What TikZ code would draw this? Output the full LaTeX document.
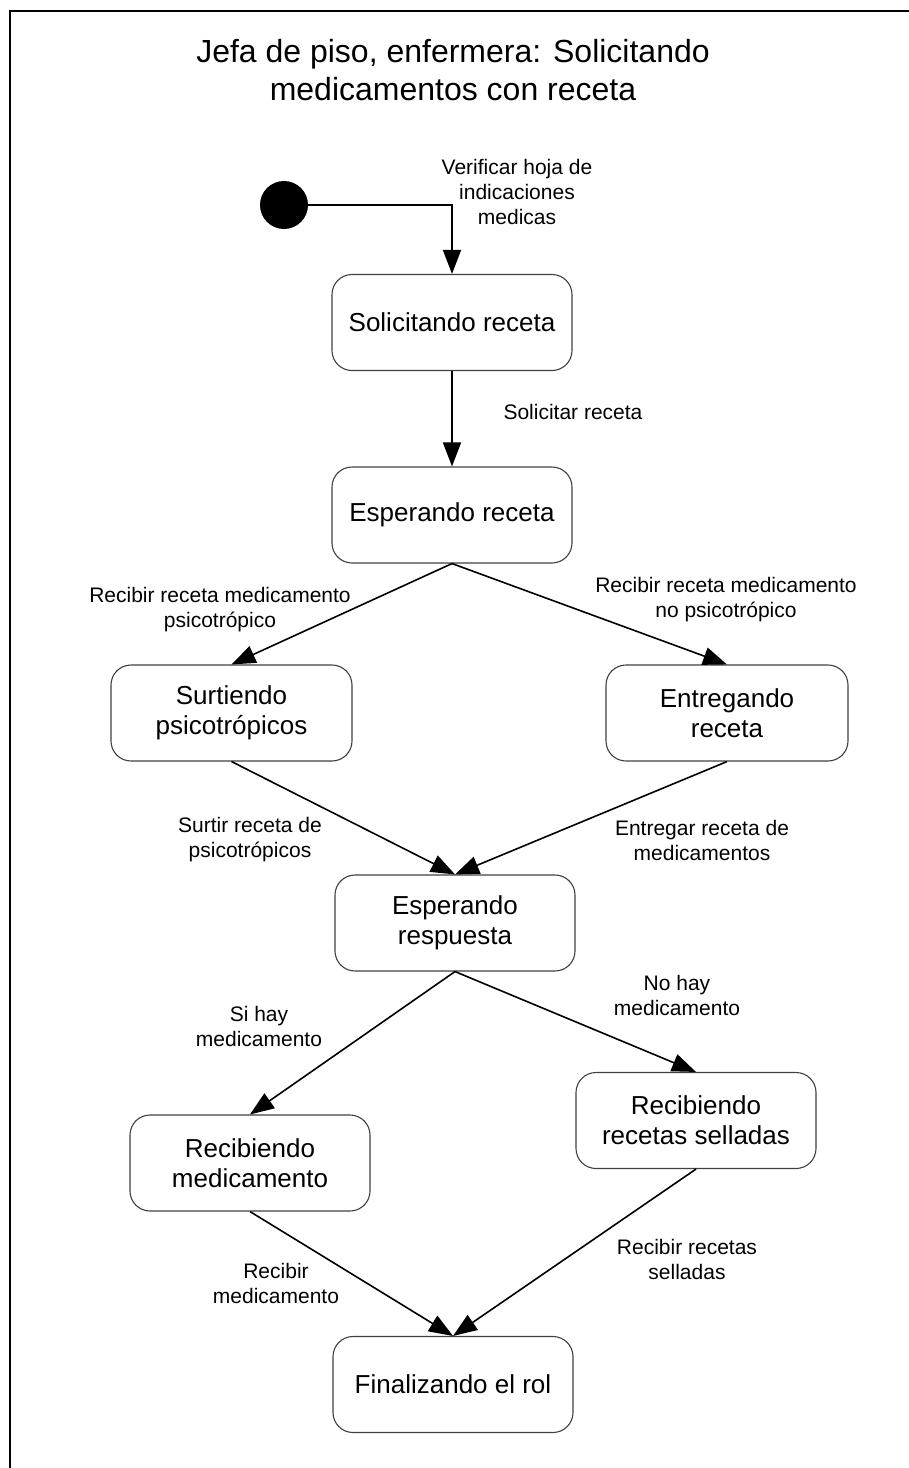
\documentclass[tikz,border=0pt]{standalone}
\usepackage{fontspec}
\setmainfont{Liberation Sans}
\usetikzlibrary{arrows.meta}

\begin{document}
\begin{tikzpicture}[x=1pt,y=-1pt,
  state/.style={draw=black!75, line width=1.1pt, rounded corners=20pt,
    minimum width=240pt, minimum height=96pt, align=center, inner sep=0pt,
    font=\fontsize{26}{30}\selectfont},
  start/.style={circle, fill=black, minimum size=48pt, inner sep=0pt},
  lbl/.style={align=center, inner sep=0pt, font=\fontsize{21}{25}\selectfont},
  flow/.style={line width=1.6pt, -{Triangle[length=24pt,width=18pt]}},
  frameline/.style={line width=2pt}
]
\useasboundingbox (0,0) rectangle (909,1468);

% open frame: top and left edges
\coordinate (fa) at (909,11);
\coordinate (fb) at (10,11);
\coordinate (fc) at (10,1468);
\draw[frameline] (fa) -- (fb) -- (fc);

% title (base anchor sits on the last line)
\node[align=center, inner sep=0pt, anchor=base, font=\fontsize{32}{38}\selectfont]
  (title) at (453,100) {Jefa de piso, enfermera: Solicitando\\medicamentos con receta};

% states
\node[start] (init) at (284,205) {};
\node[state] (solic) at (452,322.5) {Solicitando receta};
\node[state] (espR)  at (452,515) {Esperando receta};
\node[state, minimum width=241pt] (surt) at (231.5,713) {Surtiendo\\psicotrópicos};
\node[state, minimum width=242pt] (entr) at (727,713) {Entregando\\receta};
\node[state] (espResp) at (455,923) {Esperando\\respuesta};
\node[state] (recMed)  at (250,1163) {Recibiendo\\medicamento};
\node[state] (recSell) at (696,1120.5) {Recibiendo\\recetas selladas};
\node[state] (fin)     at (453,1384.5) {Finalizando el rol};

% transitions
\draw[flow] (init) -| (solic.north);
\draw[flow] (solic.south) -- (espR.north);
\draw[flow] (espR.south) -- (surt.north);
\draw[flow] (espR.south) -- (entr.north);
\draw[flow] (surt.south) -- (espResp.north);
\draw[flow] (entr.south) -- (espResp.north);
\draw[flow] (espResp.south) -- (recMed.north);
\draw[flow] (espResp.south) -- (recSell.north);
\draw[flow] (recMed.south) -- (fin.north);
\draw[flow] (recSell.south) -- (fin.north);

% transition labels
\node[lbl] (lVerif) at (517,192) {Verificar hoja de\\indicaciones\\medicas};
\node[lbl] (lSol) at (573,412) {Solicitar receta};
\node[lbl] (lPsi) at (220,610) {Recibir receta medicamento\\psicotrópico};
\node[lbl] (lNoPsi) at (726,600) {Recibir receta medicamento\\no psicotrópico};
\node[lbl] (lSurt) at (250,840) {Surtir receta de\\psicotrópicos};
\node[lbl] (lEntr) at (702,840) {Entregar receta de\\medicamentos};
\node[lbl] (lSi) at (259,1026) {Si hay\\medicamento};
\node[lbl] (lNo) at (677,995) {No hay\\medicamento};
\node[lbl] (lRecMed) at (276,1283) {Recibir\\medicamento};
\node[lbl] (lRecSell) at (687,1259) {Recibir recetas\\selladas};
\end{tikzpicture}
\end{document}
